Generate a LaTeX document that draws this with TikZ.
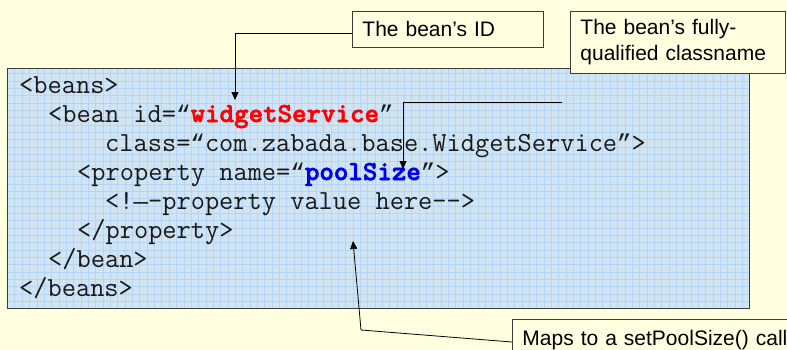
\documentclass[tikz,border=0pt]{standalone}
\usepackage{fontspec}
\setmainfont{Liberation Sans}
\newfontfamily\curlyfont{Liberation Mono}
\newfontfamily\heavymono{lmmonolt10-bold.otf}[FakeBold=2]
\usetikzlibrary{arrows.meta,calc}

\definecolor{paper}{RGB}{255,255,224}
\definecolor{panel}{RGB}{208,228,242}
\definecolor{gridline}{RGB}{180,212,248}
\definecolor{idred}{RGB}{255,0,0}
\definecolor{propblue}{RGB}{0,0,240}
\definecolor{frame}{RGB}{60,60,60}

% curly quotes and the long dash come from a face whose cell is as wide as the listing's
\newcommand\cglyph[1]{{\curlyfont\fontsize{24.2}{29}\selectfont #1}}
\newcommand\hilite[2]{\textcolor{#1}{\heavymono #2}}

\tikzset{
  codeline/.style={anchor=base west, inner sep=0pt, font=\ttfamily\fontsize{27.6}{29}\selectfont, text=black!90},
  callout/.style={draw=frame, line width=0.9pt, fill=paper, anchor=north west,
    inner xsep=10pt, inner ysep=0pt, align=left, font=\fontsize{21}{26}\selectfont},
  pointer/.style={draw=black, line width=0.8pt, -{Triangle[length=8pt,width=7pt]}},
}

\begin{document}
\begin{tikzpicture}[x=1pt,y=-1pt]
  \useasboundingbox (0,0) rectangle (787,349);
  \clip (0,0) rectangle (787,349);
  \fill[paper] (0,0) rectangle (787,349);

  % code panel with its grid
  \fill[panel] (7,68) rectangle (749,308);
  \begin{scope}
    \clip (7,68) rectangle (749,308);
    \draw[gridline, line width=0.5pt, step=7.35pt] (0,60) grid (760,320);
  \end{scope}
  \node[draw=frame, line width=1pt, minimum width=742pt, minimum height=240pt,
        anchor=north west, inner sep=0pt] (code) at (7,68) {};

  % XML listing
  \node[codeline] (l1) at (19,93)  {<beans>};
  \node[codeline] (l2) at (48,122) {<bean id=\cglyph{“}\hilite{idred}{widgetService}\cglyph{”}};
  \node[codeline] (l3) at (105,151) {class=\cglyph{“}com.zabada.base.WidgetService\cglyph{”}>};
  \node[codeline] (l4) at (77,180) {<property name=\cglyph{“}\hilite{propblue}{poolSize}\cglyph{”}>};
  \node[codeline] (l5) at (105,209) {<!\cglyph{—}-property value here-{}->};
  \node[codeline] (l6) at (77,238) {</property>};
  \node[codeline] (l7) at (48,267) {</bean>};
  \node[codeline] (l8) at (19,296) {</beans>};

  % callouts
  \node[callout, minimum width=191pt, minimum height=36pt, text width=171pt] (idbox) at (352,11)
    {The bean’s ID};
  \node[callout, minimum width=215pt, minimum height=62pt, text width=195pt] (classbox) at (570,11)
    {The bean’s fully-\\qualified classname};
  \node[callout, minimum width=290pt, minimum height=42pt, text width=270pt] (mapbox) at (512,319)
    {Maps to a setPoolSize() call};

  % pointers
  \coordinate (idtip) at (235,100);
  \coordinate (classstart) at (562,102);
  \coordinate (classtip) at (403,169);
  \coordinate (mapbend) at (361,330);
  \coordinate (maptip) at (353,241);

  \draw[pointer] ([yshift=-4pt]idbox.west) -| (idtip);
  \draw[pointer] (classstart) -| (classtip);
  \draw[pointer] (mapbox.west |- 0,342) -- (mapbend) -- (maptip);
\end{tikzpicture}
\end{document}
